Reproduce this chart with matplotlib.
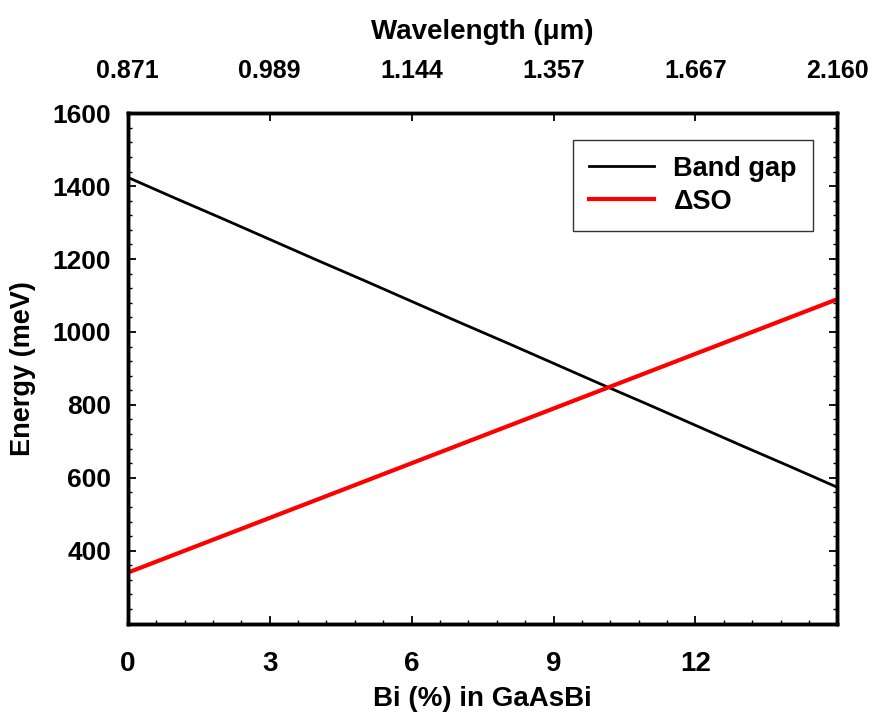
import matplotlib
matplotlib.use('Agg')
import matplotlib.pyplot as plt
from matplotlib.ticker import MultipleLocator

plt.rcParams['font.family'] = ['Liberation Sans', 'DejaVu Sans']
plt.rcParams['font.weight'] = 'bold'

# Bi content (%) and energies
bi = [0, 1, 2, 3, 4, 5, 6, 7, 8, 9, 10, 11, 12, 13, 14, 15]
band_gap = [1424, 1367, 1311, 1254, 1197, 1141, 1084, 1027, 971, 914,
            857, 801, 744, 687, 631, 574]
delta_so = [340, 390, 440, 490, 540, 590, 640, 690, 740, 790,
            840, 890, 940, 990, 1040, 1090]

# top axis: wavelength at the band gap
wl_pos = [0, 3, 6, 9, 12, 15]
wl_labels = ['0.871', '0.989', '1.144', '1.357', '1.667', '2.160']

fig = plt.figure(figsize=(8.75, 7.21), dpi=100)
ax = fig.add_axes([0.146, 0.135, 0.811, 0.708])

ax.plot(bi, band_gap, color='black', lw=2.0, label='Band gap')
ax.plot(bi, delta_so, color='red', lw=3.0, label='\u0394SO')

ax.set_xlim(0, 15)
ax.set_ylim(200, 1600)
ax.set_xticks([0, 3, 6, 9, 12])
ax.xaxis.set_minor_locator(MultipleLocator(0.6))
ax.set_yticks([400, 600, 800, 1000, 1200, 1400, 1600])
ax.yaxis.set_minor_locator(MultipleLocator(40))

ax.tick_params(axis='x', which='both', direction='in', top=False)
ax.tick_params(axis='y', which='both', direction='in', right=True)
ax.tick_params(which='major', length=6, width=1.3)
ax.tick_params(which='minor', length=3, width=1.0)
ax.tick_params(axis='x', labelsize=20, pad=20)
ax.tick_params(axis='y', labelsize=19, pad=12)

for s in ax.spines.values():
    s.set_linewidth(2.5)

ax.set_xlabel('Bi (%) in GaAsBi', fontsize=20, fontweight='bold', labelpad=6)
ax.set_ylabel('Energy (meV)', fontsize=19.5, fontweight='bold', labelpad=12)

top = ax.twiny()
top.set_xlim(ax.get_xlim())
top.set_xticks(wl_pos)
top.set_xticklabels(wl_labels)
top.tick_params(axis='x', direction='in', length=6, width=1.3,
                labelsize=18, pad=22)
top.set_xlabel('Wavelength (\u03bcm)', fontsize=20, fontweight='bold', labelpad=14)
for s in top.spines.values():
    s.set_linewidth(2.5)

leg = ax.legend(loc='upper right', bbox_to_anchor=(0.985, 0.975), fontsize=19.5,
                frameon=True, fancybox=False, edgecolor='black',
                handlelength=2.4, handletextpad=0.7, borderpad=0.6,
                labelspacing=0.25)
leg.get_frame().set_linewidth(1.0)

fig.savefig('out.png', dpi=100)
